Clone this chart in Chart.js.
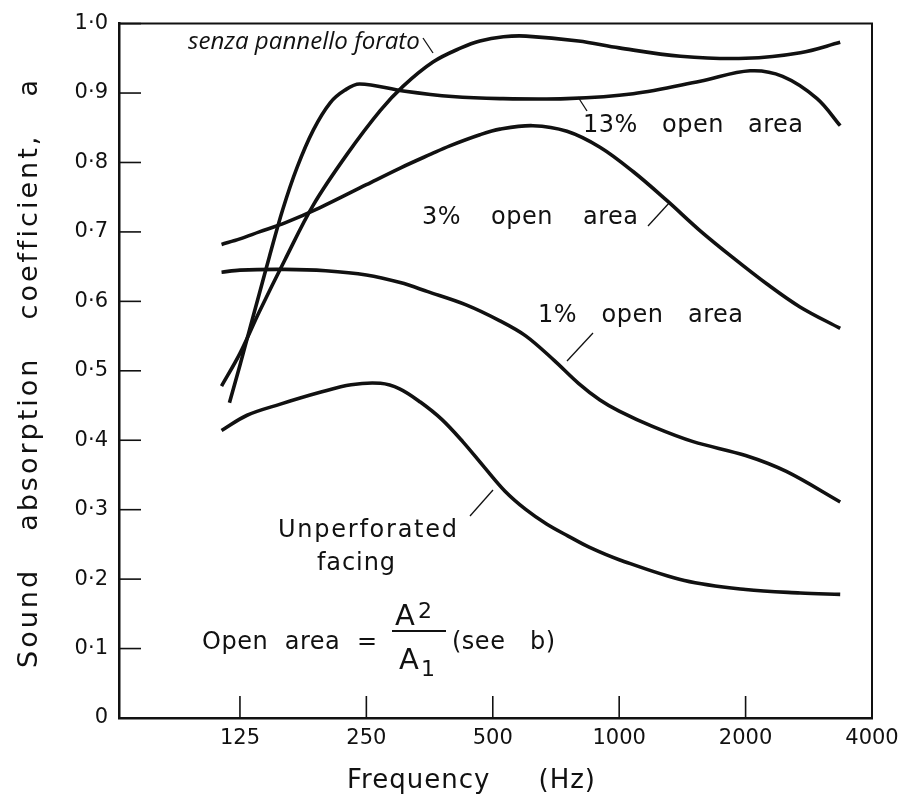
<!DOCTYPE html>
<html>
<head>
<meta charset="utf-8">
<script src="https://cdn.jsdelivr.net/npm/chart.js@4/dist/chart.umd.min.js"></script>
<style>
html, body { margin: 0; padding: 0; background: #fff; }
#wrap { width: 911px; height: 805px; }
</style>
</head>
<body>
<div id="wrap"><canvas id="grafico"></canvas></div>
<script>
// Ticks
const tickFreq = [125, 250, 500, 1000, 2000, 4000];
const tickAbs = [0, 0.1, 0.2, 0.3, 0.4, 0.5, 0.6, 0.7, 0.8, 0.9, 1.0];

// Curve: senza pannello forato
const freqSenza = [113, 125, 139, 160, 187, 225, 270, 306, 361, 420, 466, 530, 600, 800, 1000, 1400, 2000, 2700, 3360];
const absSenza  = [0.478, 0.525, 0.585, 0.660, 0.739, 0.812, 0.875, 0.910, 0.945, 0.965, 0.975, 0.981, 0.982, 0.975, 0.965, 0.953, 0.950, 0.958, 0.973];

// Curve: 13% open area
const freq13 = [118, 125, 132, 139, 147, 158, 171, 187, 205, 222, 241, 306, 400, 520, 750, 1080, 1560, 2050, 2450, 2960, 3360];
const abs13  = [0.454, 0.508, 0.561, 0.611, 0.665, 0.732, 0.793, 0.847, 0.886, 0.904, 0.913, 0.903, 0.895, 0.892, 0.892, 0.899, 0.917, 0.932, 0.924, 0.892, 0.853];

// Curve: 3% open area
const freq3 = [113, 125, 139, 160, 194, 250, 301, 356, 395, 466, 520, 623, 751, 900, 1079, 1300, 1557, 1866, 2249, 2695, 3360];
const abs3  = [0.682, 0.690, 0.700, 0.713, 0.735, 0.768, 0.792, 0.812, 0.824, 0.840, 0.848, 0.853, 0.845, 0.822, 0.787, 0.745, 0.702, 0.663, 0.625, 0.592, 0.561];

// Curve: 1% open area
const freq1 = [113, 125, 160, 200, 250, 301, 350, 432, 520, 600, 700, 800, 900, 1000, 1200, 1500, 2000, 2500, 3360];
const abs1  = [0.642, 0.645, 0.646, 0.644, 0.638, 0.627, 0.614, 0.595, 0.572, 0.550, 0.515, 0.482, 0.458, 0.442, 0.420, 0.398, 0.378, 0.355, 0.311];

// Curve: unperforated facing
const freqUnperf = [113, 130, 156, 194, 230, 270, 300, 336, 378, 424, 476, 534, 600, 673, 756, 848, 1000, 1430, 2000, 2700, 3360];
const absUnperf  = [0.414, 0.436, 0.452, 0.469, 0.480, 0.482, 0.474, 0.455, 0.430, 0.398, 0.362, 0.327, 0.300, 0.279, 0.262, 0.246, 0.228, 0.198, 0.185, 0.180, 0.178];

const FONT = '"DejaVu Sans", sans-serif';
const INK = '#111';

function punti(fx, fy) {
    return fx.map((f, i) => ({ x: f, y: fy[i] }));
}

function curva(label, fx, fy) {
    return {
        label: label,
        data: punti(fx, fy),
        borderColor: INK,
        borderWidth: 3.6,
        pointRadius: 0,
        fill: false,
        tension: 0.35,
    };
}

// Words spread between x1 and x2 (single word: stretched with letter spacing)
function spread(ctx, text, x1, x2, y, spacing) {
    const words = text.split(' ');
    ctx.textAlign = 'left';
    ctx.textBaseline = 'middle';
    if (words.length === 1) {
        ctx.letterSpacing = '0px';
        const w = ctx.measureText(text).width;
        const ls = (x2 - x1 - w) / Math.max(text.length - 1, 1);
        ctx.letterSpacing = ls + 'px';
        ctx.fillText(text, x1, y);
        ctx.letterSpacing = '0px';
        return;
    }
    ctx.letterSpacing = spacing + 'px';
    const widths = words.map(w => ctx.measureText(w).width - spacing);
    const total = widths.reduce((s, w) => s + w, 0);
    const gap = (x2 - x1 - total) / (words.length - 1);
    let x = x1;
    words.forEach((w, i) => {
        ctx.fillText(w, x, y);
        x += widths[i] + gap;
    });
    ctx.letterSpacing = '0px';
}

function linea(ctx, x1, y1, x2, y2) {
    ctx.beginPath();
    ctx.moveTo(x1, y1);
    ctx.lineTo(x2, y2);
    ctx.stroke();
}

const decorazioni = {
    id: 'decorazioni',
    afterDraw(chart) {
        const { ctx, chartArea: a, scales } = chart;
        const sx = scales.x, sy = scales.y;
        ctx.save();
        ctx.strokeStyle = INK;
        ctx.fillStyle = INK;

        // top and right frame
        ctx.lineWidth = 2;
        ctx.beginPath();
        ctx.moveTo(a.left, a.top);
        ctx.lineTo(a.right, a.top);
        ctx.lineTo(a.right, a.bottom);
        ctx.stroke();

        // inward tick marks
        ctx.lineWidth = 1.6;
        tickAbs.forEach(v => {
            if (v <= 0) return;
            const py = sy.getPixelForValue(v);
            linea(ctx, a.left, py, a.left + 22, py);
        });
        tickFreq.forEach(f => {
            const px = sx.getPixelForValue(f);
            linea(ctx, px, a.bottom, px, a.bottom - 22);
        });

        // axis titles
        ctx.font = '26px ' + FONT;
        spread(ctx, 'Frequency (Hz)', 347, 595, 781, 1);
        ctx.save();
        ctx.translate(30, 0);
        ctx.rotate(-Math.PI / 2);
        ctx.font = '27px ' + FONT;
        spread(ctx, 'Sound absorption coefficient, a', -668, -80, 0, 3);
        ctx.restore();

        // curve labels
        ctx.font = '24px ' + FONT;
        spread(ctx, '13% open area', 583, 803, 126, 0.5);
        spread(ctx, '3% open area', 422, 638, 218, 0.5);
        spread(ctx, '1% open area', 538, 743, 316, 0.5);
        spread(ctx, 'Unperforated', 278, 457, 531, 0);
        spread(ctx, 'facing', 317, 395, 564, 0);

        // open area formula
        spread(ctx, 'Open area =', 202, 377, 643, 0.5);
        ctx.font = '29px ' + FONT;
        ctx.fillText('A', 395, 617);
        ctx.fillText('A', 399, 661);
        ctx.font = '22px ' + FONT;
        ctx.fillText('2', 418, 612);
        ctx.fillText('1', 421, 670);
        ctx.lineWidth = 2;
        linea(ctx, 392, 631, 446, 631);
        ctx.font = '24px ' + FONT;
        spread(ctx, '(see b)', 452, 555, 643, 0.5);

        // italic label
        ctx.font = 'italic 20px "Open Sans", sans-serif';
        const w = ctx.measureText('senza pannello forato').width;
        ctx.font = 'italic ' + (20 * 232 / w).toFixed(1) + 'px "Open Sans", sans-serif';
        ctx.textAlign = 'left';
        ctx.fillText('senza pannello forato', 188, 42);

        // leader lines
        ctx.lineWidth = 1.3;
        linea(ctx, 423, 38, 433, 53);
        linea(ctx, 578, 97, 587, 111);
        linea(ctx, 648, 226, 670, 202);
        linea(ctx, 593, 333, 567, 361);
        linea(ctx, 470, 516, 493, 490);
        ctx.restore();
    }
};

const graficoCanvas = document.getElementById('grafico');

new Chart(graficoCanvas, {
    type: 'line',
    data: {
        datasets: [
            curva('senza pannello forato', freqSenza, absSenza),
            curva('13% open area', freq13, abs13),
            curva('3% open area', freq3, abs3),
            curva('1% open area', freq1, abs1),
            curva('Unperforated facing', freqUnperf, absUnperf),
        ]
    },
    options: {
        responsive: true,
        maintainAspectRatio: false,
        animation: false,
        layout: { padding: { left: 0, right: 39, top: 17, bottom: 0 } },
        plugins: {
            legend: { display: false },
            tooltip: { enabled: false },
        },
        scales: {
            x: {
                type: 'logarithmic',
                min: 64.4,
                max: 4000,
                afterBuildTicks: scale => { scale.ticks = tickFreq.map(v => ({ value: v })); },
                afterFit: scale => { scale.height = 87; },
                grid: { drawOnChartArea: false, drawTicks: false },
                border: { display: true, color: INK, width: 2.5 },
                ticks: {
                    autoSkip: false,
                    maxRotation: 0,
                    padding: 8,
                    color: INK,
                    font: { family: FONT, size: 21 },
                    callback: v => String(v),
                },
            },
            y: {
                type: 'linear',
                min: 0,
                max: 1,
                afterBuildTicks: scale => { scale.ticks = tickAbs.map(v => ({ value: v })); },
                afterFit: scale => { scale.width = 119; },
                grid: { drawOnChartArea: false, drawTicks: false },
                border: { display: true, color: INK, width: 2.5 },
                ticks: {
                    padding: 11,
                    color: INK,
                    font: { family: FONT, size: 21 },
                    callback: v => (v === 0 ? '0' : Number(v).toFixed(1).replace('.', '·')),
                },
            },
        },
    },
    plugins: [decorazioni],
});
</script>
</body>
</html>
